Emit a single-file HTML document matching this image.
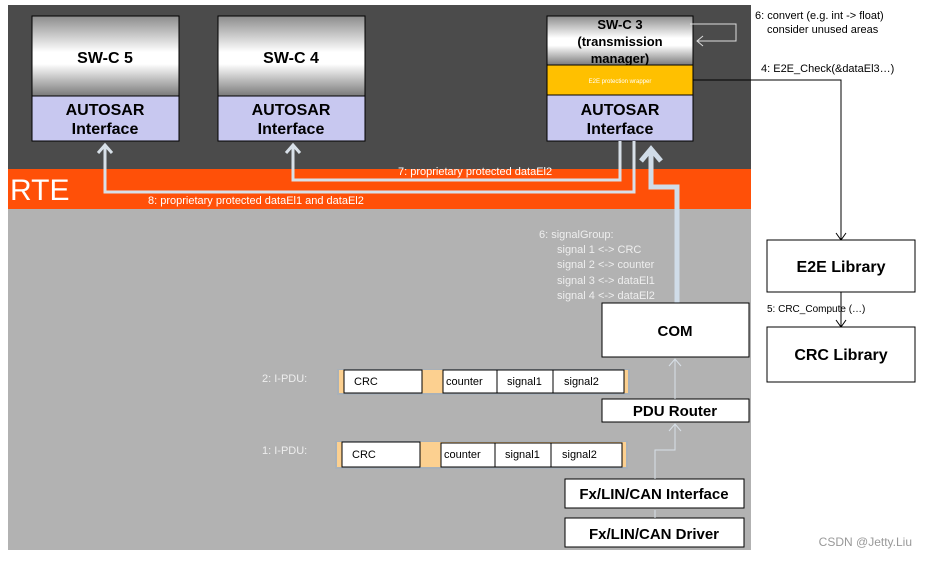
<!DOCTYPE html>
<html><head><style>
body{margin:0;background:#fff;width:926px;height:559px;overflow:hidden;font-family:"Liberation Sans",sans-serif}
</style></head><body>
<svg width="926" height="559" xmlns="http://www.w3.org/2000/svg" font-family="Liberation Sans, sans-serif">
<defs>
<linearGradient id="g" x1="0" y1="0" x2="0" y2="1">
<stop offset="0" stop-color="#8c8c8c"/><stop offset="0.45" stop-color="#ffffff"/><stop offset="0.6" stop-color="#ffffff"/><stop offset="1" stop-color="#7a7a7a"/>
</linearGradient>
</defs>
<rect x="8" y="5" width="743" height="164" fill="#4b4b4b"/>
<rect x="8" y="169" width="743" height="40" fill="#ff5008"/>
<rect x="8" y="209" width="743" height="341" fill="#b2b2b2"/>
<text x="10" y="200" font-size="30" fill="#fff">RTE</text>

<!-- SW-C 5 -->
<rect x="32" y="16" width="147" height="80" fill="url(#g)" stroke="#000"/>
<rect x="32" y="96" width="147" height="45" fill="#c8c8f0" stroke="#000"/>
<text x="105" y="63" font-size="16" font-weight="bold" text-anchor="middle">SW-C 5</text>
<text x="105" y="115" font-size="16" font-weight="bold" text-anchor="middle">AUTOSAR</text>
<text x="105" y="134" font-size="16" font-weight="bold" text-anchor="middle">Interface</text>
<!-- SW-C 4 -->
<rect x="218" y="16" width="147" height="80" fill="url(#g)" stroke="#000"/>
<rect x="218" y="96" width="147" height="45" fill="#c8c8f0" stroke="#000"/>
<text x="291" y="63" font-size="16" font-weight="bold" text-anchor="middle">SW-C 4</text>
<text x="291" y="115" font-size="16" font-weight="bold" text-anchor="middle">AUTOSAR</text>
<text x="291" y="134" font-size="16" font-weight="bold" text-anchor="middle">Interface</text>
<!-- SW-C 3 -->
<rect x="547" y="16" width="146" height="49" fill="url(#g)" stroke="#000"/>
<rect x="547" y="65" width="146" height="30" fill="#ffc000" stroke="#000"/>
<rect x="547" y="95" width="146" height="46" fill="#c8c8f0" stroke="#000"/>
<text x="620" y="29" font-size="13" font-weight="bold" text-anchor="middle">SW-C 3</text>
<text x="620" y="46" font-size="13" font-weight="bold" text-anchor="middle">(transmission</text>
<text x="620" y="63" font-size="13" font-weight="bold" text-anchor="middle">manager)</text>
<text x="620" y="83" font-size="6" fill="#fff" text-anchor="middle">E2E protection wrapper</text>
<text x="620" y="115" font-size="16" font-weight="bold" text-anchor="middle">AUTOSAR</text>
<text x="620" y="134" font-size="16" font-weight="bold" text-anchor="middle">Interface</text>
<polyline points="690,24 736,24 736,41 697,41" fill="none" stroke="#ddd" stroke-width="1"/>
<polyline points="703,36 697,41 703,46" fill="none" stroke="#ddd" stroke-width="1"/>

<!-- thin arrows -->
<g fill="none" stroke="#d8e0e8" stroke-width="3">
<polyline points="620,141 620,180 293,180 293,145"/>
<polyline points="286,153 293,145 300,153"/>
<polyline points="634,141 634,192 105,192 105,145"/>
<polyline points="98,153 105,145 112,153"/>
</g>
<g fill="none" stroke="#d0dce8" stroke-width="5">
<polyline points="677,303 677,187 651,187 651,149"/>
<polyline points="641,161 651,149 661,161"/>
</g>
<text x="398" y="175" font-size="11" fill="#fff">7: proprietary protected dataEl2</text>
<text x="148" y="204" font-size="11" fill="#fff">8: proprietary protected dataEl1 and dataEl2</text>

<!-- right side -->
<text x="755" y="19" font-size="11">6: convert  (e.g. int -&gt; float)</text>
<text x="767" y="33" font-size="11">consider unused areas</text>
<text x="761" y="72" font-size="11">4: E2E_Check(&amp;dataEl3…)</text>
<polyline points="693,80 841,80 841,240" fill="none" stroke="#000"/>
<polyline points="836,233 841,240 846,233" fill="none" stroke="#000"/>
<rect x="767" y="240" width="148" height="52" fill="#fff" stroke="#000"/>
<text x="841" y="272" font-size="16" font-weight="bold" text-anchor="middle">E2E Library</text>
<line x1="841" y1="292" x2="841" y2="327" stroke="#000"/>
<polyline points="836,320 841,327 846,320" fill="none" stroke="#000"/>
<text x="767" y="312" font-size="10">5: CRC_Compute (…)</text>
<rect x="767" y="327" width="148" height="55" fill="#fff" stroke="#000"/>
<text x="841" y="360" font-size="16" font-weight="bold" text-anchor="middle">CRC Library</text>

<!-- signal group text -->
<g font-size="11" fill="#eee">
<text x="539" y="238">6: signalGroup:</text>
<text x="557" y="253">signal 1 &lt;-&gt; CRC</text>
<text x="557" y="268">signal 2 &lt;-&gt; counter</text>
<text x="557" y="284">signal 3 &lt;-&gt; dataEl1</text>
<text x="557" y="299">signal 4 &lt;-&gt; dataEl2</text>
<text x="262" y="382">2: I-PDU:</text>
<text x="262" y="454">1: I-PDU:</text>
</g>

<!-- COM stack -->
<rect x="602" y="303" width="147" height="54" fill="#fff" stroke="#000"/>
<text x="675" y="336" font-size="15" font-weight="bold" text-anchor="middle">COM</text>
<rect x="602" y="399" width="147" height="23" fill="#fff" stroke="#000"/>
<text x="675" y="416" font-size="15" font-weight="bold" text-anchor="middle">PDU Router</text>
<rect x="565" y="479" width="179" height="29" fill="#fff" stroke="#000"/>
<text x="654" y="499" font-size="15" font-weight="bold" text-anchor="middle">Fx/LIN/CAN Interface</text>
<rect x="565" y="518" width="179" height="29" fill="#fff" stroke="#000"/>
<text x="654" y="539" font-size="15" font-weight="bold" text-anchor="middle">Fx/LIN/CAN Driver</text>
<g fill="none" stroke="#d8e0e8" stroke-width="1">
<line x1="675" y1="399" x2="675" y2="359"/><polyline points="669,366 675,359 681,366"/>
<polyline points="655,479 655,450 675,450 675,424"/><polyline points="669,431 675,424 681,431"/>
<line x1="655" y1="518" x2="655" y2="510"/>
</g>

<!-- I-PDU 2 -->
<rect x="337" y="369" width="293" height="26" fill="#a8b0b8"/>
<rect x="339" y="370" width="289" height="23" fill="#fcd090"/>
<g fill="#fff" stroke="#000">
<rect x="344" y="370" width="78" height="23"/>
<rect x="443" y="370" width="54" height="23"/>
<rect x="497" y="370" width="56" height="23"/>
<rect x="553" y="370" width="71" height="23"/>
</g>
<g font-size="11">
<text x="354" y="385">CRC</text><text x="446" y="385">counter</text><text x="507" y="385">signal1</text><text x="564" y="385">signal2</text>
</g>
<!-- I-PDU 1 -->
<rect x="335" y="441" width="293" height="28" fill="#a8b0b8"/>
<rect x="337" y="442" width="289" height="25" fill="#fcd090"/>
<g fill="#fff" stroke="#000">
<rect x="342" y="442" width="78" height="25"/>
<rect x="441" y="443" width="54" height="24"/>
<rect x="495" y="443" width="56" height="24"/>
<rect x="551" y="443" width="71" height="24"/>
</g>
<g font-size="11">
<text x="352" y="458">CRC</text><text x="444" y="458">counter</text><text x="505" y="458">signal1</text><text x="562" y="458">signal2</text>
</g>
<text x="912" y="546" font-size="12" fill="#999" text-anchor="end">CSDN @Jetty.Liu</text>
</svg>
</body></html>
